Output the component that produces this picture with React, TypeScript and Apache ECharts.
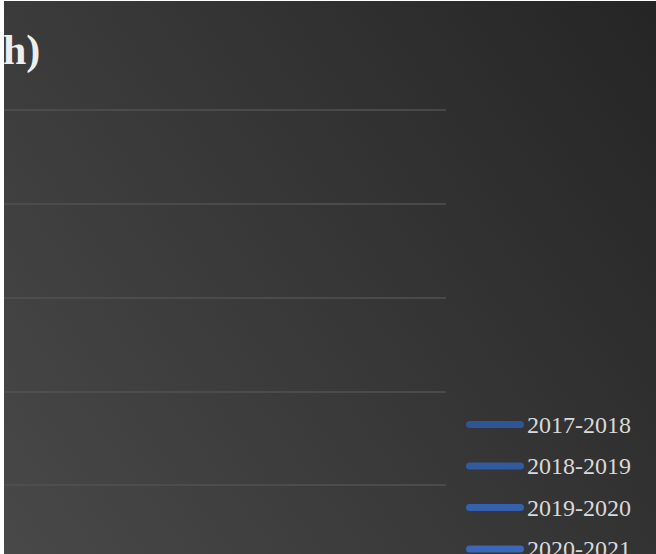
import React, { useEffect, useRef } from "react";
import * as echarts from "echarts";

const seriesNames = ["2017-2018", "2018-2019", "2019-2020", "2020-2021"];
const seriesColors = ["#2e5596", "#315a9f", "#3560ab", "#3a67b8"];
const categories: string[] = [];
const values2017: number[] = [];
const values2018: number[] = [];
const values2019: number[] = [];
const values2020: number[] = [];
const titleTail = "h)";

export default function App() {
  const ref = useRef<HTMLDivElement>(null);
  useEffect(() => {
    if (!ref.current) return;
    const chart = echarts.init(ref.current, undefined, { renderer: "svg" });
    const seriesData = [values2017, values2018, values2019, values2020];
    chart.setOption({
      animation: false,
      backgroundColor: new echarts.graphic.LinearGradient(1, 0, 0, 0.8, [
        { offset: 0, color: "#252525" },
        { offset: 1, color: "#494949" },
      ]),
      color: seriesColors,
      graphic: [
        {
          type: "text",
          x: -1,
          y: 49,
          style: {
            text: titleTail,
            font: 'bold 42px "Liberation Serif"',
            fill: "#eeeeee",
            align: "left",
            verticalAlign: "middle",
          },
        },
      ],
      grid: { left: -10, right: 210, top: 109, height: 468.75 },
      xAxis: {
        type: "category",
        data: categories,
        axisLine: { show: false },
        axisTick: { show: false },
        axisLabel: { show: false },
      },
      yAxis: {
        type: "value",
        min: 0,
        max: 5,
        interval: 1,
        axisLine: { show: false },
        axisTick: { show: false },
        axisLabel: { show: false },
        splitLine: { lineStyle: { color: "#525252", width: 1.5 } },
      },
      legend: {
        orient: "vertical",
        left: 457,
        top: 406.5,
        itemGap: 17.5,
        itemWidth: 58,
        itemHeight: 7,
        icon: "path://M3.5,0L54.5,0A3.5,3.5,0,0,1,54.5,7L3.5,7A3.5,3.5,0,0,1,3.5,0Z",
        textStyle: {
          color: "#d9d9d9",
          fontFamily: '"Liberation Serif"',
          fontSize: 24,
          lineHeight: 24,
          padding: [0, 0, 0, -2],
        },
        data: seriesNames,
      },
      series: seriesNames.map((name, i) => ({
        name,
        type: "line",
        data: seriesData[i],
        showSymbol: false,
        lineStyle: { width: 3 },
      })),
    });
    return () => chart.dispose();
  }, []);
  return (
    <div
      style={{
        position: "absolute",
        left: 4,
        top: 1,
        width: 652,
        height: 553,
        overflow: "hidden",
      }}
    >
      <div ref={ref} style={{ width: 652, height: 720 }} />
    </div>
  );
}
